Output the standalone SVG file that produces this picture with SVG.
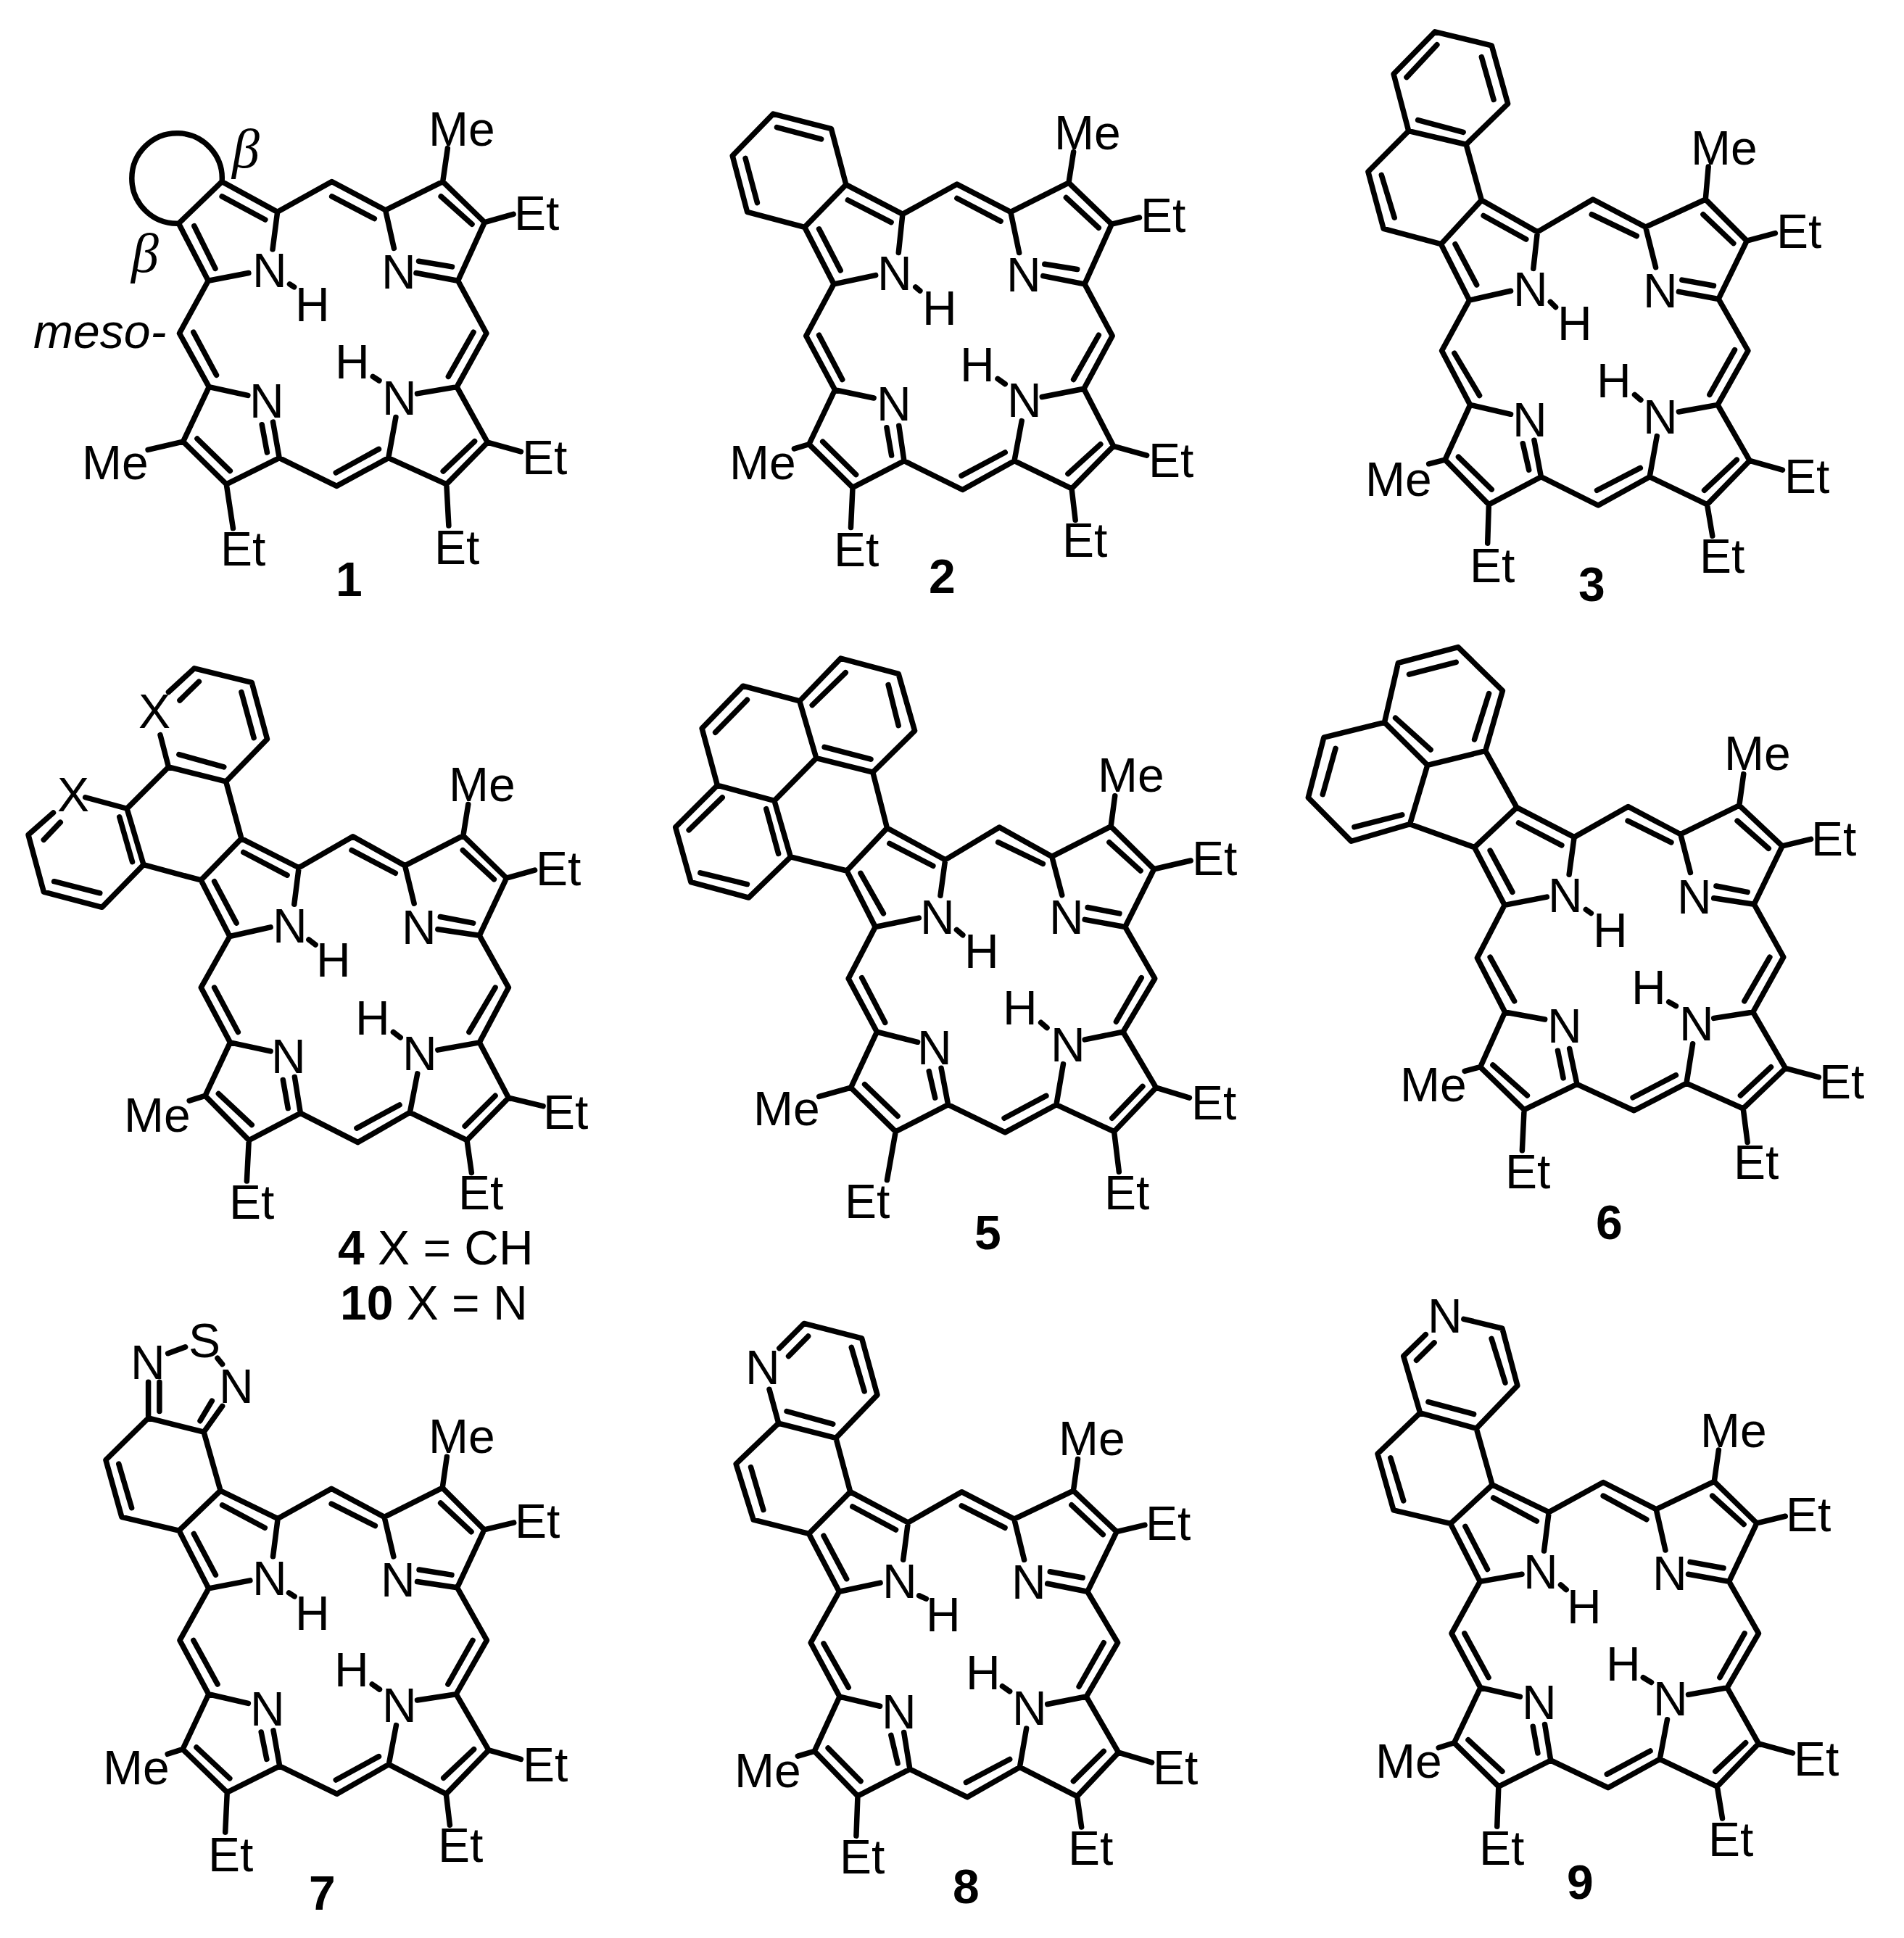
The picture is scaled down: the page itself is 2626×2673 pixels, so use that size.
<svg xmlns="http://www.w3.org/2000/svg" width="2626" height="2673" viewBox="0 0 2626 2673">
<style>
.b{fill:none;stroke:#000;stroke-width:7.5;stroke-linecap:round;stroke-linejoin:round;vector-effect:non-scaling-stroke}
text{font-family:"Liberation Sans",Arial,sans-serif;font-size:66px;fill:#000}
.l{font-weight:bold}
.i{font-style:italic}
.g{font-family:"Liberation Serif","Times New Roman",serif;font-style:italic;font-size:76px}
</style>
<rect width="2626" height="2673" fill="#fff"/>
<g id="compound-1">
<path class="b" transform="matrix(.5102 0 0 .5102 0 100)" d="M600 295L750 377 897 295 1042 372 1197 295 1310 405 1238 563 1315 705 1235 850 1318 1000 1207 1113 1050 1042 910 1118 755 1042 612 1113 495 998 565 850 485 705 563 563 483 408ZM750 377L737 478M563 563L672 542M1042 372L1065 475M1238 563L1125 542M1132 510L1222 525M1235 850L1128 868M1050 1042L1070 932M755 1042L738 945M708 952L722 1027M565 850L670 873M600 335L717 398M897 335L1012 395M1192 335L1276 410M525 415L582 530M1280 702L1212 822M1283 997L1198 1078M1024 1018L908 1082M622 1077L533 990M523 702L585 818M783 572L795 580M1008 822L1025 833M1197 295L1210 205M1310 405L1388 383M1318 1000L1408 1025M1207 1113L1213 1225M612 1113L630 1232M495 998L400 1020M600 295A122 122 0 1 0 483 408"/>
<text x="591" y="201">Me</text><text x="709" y="317">Et</text><text x="348" y="396">N</text><text x="407" y="443">H</text><text x="526" y="398">N</text><text x="462" y="522">H</text><text x="527" y="572">N</text><text x="344" y="576">N</text><text x="720" y="654">Et</text><text x="304" y="780">Et</text><text x="599" y="778">Et</text><text x="113" y="661">Me</text>
<text class="i" x="46" y="480">meso-</text><text class="g" x="320" y="231">β</text><text class="g" x="181" y="375">β</text>
<text class="l" x="463" y="822">1</text>
</g>
<g id="compound-2">
<path class="b" transform="matrix(.5102 0 0 .5102 950 100)" d="M425 303L578 383 725 302 870 377 1027 298 1143 410 1070 572 1145 712 1068 855 1148 1010 1035 1125 880 1050 740 1128 582 1050 443 1122 325 1005 395 858 317 712 392 572 313 418ZM425 303L385 152 228 112 118 225 158 377 313 418M238 148L358 180M153 232L185 352M578 383L567 487M392 572L505 548M870 377L893 487M1070 572L958 550M962 518L1050 532M1068 855L955 877M880 1050L900 942M582 1050L568 955M535 960L548 1035M395 858L500 880M430 345L547 405M725 340L843 402M1020 338L1108 420M352 423L410 535M1108 710L1040 830M1113 1005L1025 1085M855 1027L737 1090M452 1087L362 998M352 710L415 830M613 580L625 590M835 828L855 842M1027 298L1040 215M1143 410L1218 392M1148 1010L1238 1035M1035 1125L1045 1210M443 1122L438 1230M325 1005L285 1017"/>
<text x="1454" y="206">Me</text><text x="1573" y="320">Et</text><text x="1210" y="400">N</text><text x="1272" y="448">H</text><text x="1388" y="402">N</text><text x="1324" y="526">H</text><text x="1389" y="575">N</text><text x="1209" y="580">N</text><text x="1584" y="658">Et</text><text x="1465" y="768">Et</text><text x="1150" y="781">Et</text><text x="1006" y="661">Me</text>
<text class="l" x="1281" y="818">2</text>
</g>
<g id="compound-3">
<path class="b" transform="matrix(.5587 0 0 .5612 1750 0)" d="M525 492L663 570 800 490 930 558 1078 490 1180 592 1110 735 1183 862 1108 995 1187 1132 1082 1240 940 1172 813 1242 672 1172 543 1240 435 1130 497 995 427 862 495 738 425 600ZM525 492L487 355 345 322 245 422 283 562 425 600M487 355L590 255 550 112 410 78 308 182 345 322M368 295L480 325M525 140L555 245M415 110L340 190M278 430L310 535M663 570L653 660M495 738L597 715M930 558L955 657M1110 735L1012 717M1020 688L1098 702M1108 995L1012 1012M940 1172L958 1072M672 1172L655 1082M627 1090L642 1155M497 995L597 1018M530 530L635 588M797 527L908 580M1072 527L1147 598M460 600L513 700M1150 860L1088 970M1155 1130L1075 1205M917 1150L810 1205M550 1203L468 1123M458 868L520 972M695 742L708 755M903 970L918 983M1078 490L1085 410M1180 592L1250 573M1187 1132L1268 1155M1082 1240L1095 1317M543 1240L540 1335M435 1130L395 1140"/>
<text x="2332" y="227">Me</text><text x="2450" y="342">Et</text><text x="2087" y="422">N</text><text x="2148" y="469">H</text><text x="2266" y="424">N</text><text x="2202" y="548">H</text><text x="2266" y="598">N</text><text x="2086" y="602">N</text><text x="2461" y="680">Et</text><text x="2344" y="790">Et</text><text x="2027" y="803">Et</text><text x="1883" y="684">Me</text>
<text class="l" x="2177" y="829">3</text>
</g>
<g id="compound-4">
<path class="b" transform="matrix(.574 0 0 .574 0 900)" d="M580 447L718 517 848 442 973 512 1113 440 1217 542 1152 680 1222 805 1152 937 1222 1070 1122 1172 985 1105 860 1177 722 1107 598 1172 493 1065 553 937 483 805 552 682 483 547ZM580 447L543 310 405 275M543 310L642 208 605 72 467 38 405 95M430 245L538 275M580 95L610 205M478 70L432 115M385 198L405 275 305 375 205 348M305 375L345 510 245 612 105 575 68 438 128 385M287 395L318 503M240 578L130 550M105 450L145 408M345 510L483 547M718 517L707 605M552 682L650 660M973 512L995 603M1152 680L1052 665M1058 635L1137 650M1152 937L1052 955M985 1105L1003 1012M722 1107L708 1020M680 1027L692 1095M553 937L650 958M585 480L690 535M845 475L950 530M1112 475L1187 545M515 550L568 650M1190 805L1127 912M1190 1065L1117 1138M960 1087L857 1143M605 1135L525 1060M515 805L572 912M742 690L758 702M945 912L962 925M1113 440L1125 365M1217 542L1285 523M1222 1070L1305 1090M1122 1172L1133 1250M598 1172L593 1270M493 1065L455 1077"/>
<text x="191" y="1004">X</text><text x="79" y="1119">X</text><text x="619" y="1105">Me</text><text x="739" y="1221">Et</text><text x="376" y="1300">N</text><text x="436" y="1347">H</text><text x="554" y="1302">N</text><text x="490" y="1427">H</text><text x="555" y="1476">N</text><text x="374" y="1480">N</text><text x="749" y="1557">Et</text><text x="632" y="1668">Et</text><text x="316" y="1681">Et</text><text x="171" y="1561">Me</text>
<text class="l" x="466" y="1744">4 <tspan font-weight="normal">X = CH</tspan></text>
<text class="l" x="469" y="1820">10 <tspan font-weight="normal">X = N</tspan></text>
</g>
<g id="compound-5">
<path class="b" transform="matrix(.5612 0 0 .5612 880 880)" d="M612 467L755 545 888 465 1017 537 1162 463 1268 568 1197 710 1270 837 1192 968 1273 1105 1170 1213 1028 1147 902 1215 762 1147 633 1213 523 1105 587 968 517 837 583 710 513 572ZM612 467L577 330 438 295 335 400 195 362 92 465 130 600 272 638 375 538 513 572M577 330L680 228 640 88 498 50 397 155 438 295M397 155L258 118 157 222 195 362M335 400L375 538M458 268L572 298M640 215L615 115M510 85L428 165M268 152L190 232M207 392L125 472M153 577L268 605M315 420L345 530M755 545L743 633M583 710L690 688M1017 537L1042 632M1197 710L1098 692M1105 662L1183 677M1192 968L1098 987M1028 1147L1045 1047M762 1147L745 1057M715 1065L730 1130M587 968L687 993M618 505L725 560M885 502L995 555M1158 502L1235 572M547 578L603 677M1237 835L1175 943M1240 1102L1165 1180M1003 1125L900 1180M638 1175L557 1097M550 835L607 945M783 717L798 730M990 945L1005 958M1162 463L1172 388M1268 568L1358 547M1273 1105L1355 1130M1170 1213L1182 1312M633 1213L612 1332M523 1105L445 1127"/>
<text x="1514" y="1092">Me</text><text x="1644" y="1207">Et</text><text x="1269" y="1288">N</text><text x="1330" y="1335">H</text><text x="1447" y="1288">N</text><text x="1383" y="1413">H</text><text x="1449" y="1464">N</text><text x="1265" y="1468">N</text><text x="1643" y="1544">Et</text><text x="1523" y="1668">Et</text><text x="1165" y="1680">Et</text><text x="1039" y="1552">Me</text>
<text class="l" x="1344" y="1723">5</text>
</g>
<g id="compound-6">
<path class="b" transform="matrix(.5395 0 0 .5612 1780 860)" d="M578 452L725 525 863 450 997 518 1147 447 1257 547 1185 690 1260 820 1182 955 1265 1093 1157 1192 1012 1130 878 1197 732 1132 597 1195 485 1090 548 955 477 822 547 692 470 550ZM578 452L498 313 350 348 240 243 275 97 428 58 542 165 498 313M240 243L85 280 45 428 155 535 305 493 350 348M305 493L470 550M358 310L268 232M303 125L423 95M507 172L470 285M115 307L82 420M163 500L285 470M725 525L712 617M547 692L655 672M997 518L1022 612M1185 690L1082 675M1088 645L1168 660M1182 955L1082 970M1012 1130L1028 1033M732 1132L713 1045M683 1050L697 1117M548 955L650 973M583 490L693 545M862 485L973 538M1142 485L1222 553M510 558L567 660M1225 820L1160 928M1228 1090L1150 1160M985 1110L875 1165M605 1160L517 1085M510 820L572 928M755 703L768 712M967 930L985 940M1147 447L1158 370M1257 547L1330 530M1265 1093L1350 1115M1157 1192L1168 1275M597 1195L592 1295M485 1090L445 1100"/>
<text x="2378" y="1062">Me</text><text x="2498" y="1180">Et</text><text x="2135" y="1258">N</text><text x="2197" y="1306">H</text><text x="2313" y="1260">N</text><text x="2250" y="1385">H</text><text x="2316" y="1435">N</text><text x="2134" y="1438">N</text><text x="2509" y="1515">Et</text><text x="2391" y="1626">Et</text><text x="2076" y="1639">Et</text><text x="1931" y="1519">Me</text>
<text class="l" x="2201" y="1709">6</text>
</g>
<g id="compound-7">
<path class="b" transform="matrix(.5102 0 0 .5504 100 1810)" d="M400 447L555 517 700 442 843 513 1000 440 1113 545 1040 690 1120 822 1037 957 1125 1097 1010 1207 855 1133 715 1207 560 1137 418 1203 298 1095 368 957 290 822 368 692 288 547ZM400 447L355 300 205 265 90 370 133 513 288 547M125 380L160 490M205 265L205 175M235 175L235 248M355 300L405 235M345 272L377 222M258 103L305 87M392 115L405 130M555 517L542 612M368 692L480 672M843 513L868 612M1040 690L932 675M937 645L1025 658M1037 957L932 972M855 1133L875 1035M560 1137L543 1048M510 1052L525 1120M368 957L475 980M405 483L520 540M700 480L818 535M995 478L1078 550M328 555L387 658M1082 822L1015 932M1085 1095L1003 1167M828 1113L712 1172M425 1168L335 1090M327 822L392 932M585 703L600 712M810 932L830 945M1000 440L1012 362M1113 545L1193 527M1125 1097L1212 1120M1010 1207L1020 1285M418 1203L413 1303M298 1095L257 1107"/>
<text x="180" y="1902">N</text><text x="260" y="1872">S</text><text x="302" y="1935">N</text><text x="591" y="2004">Me</text><text x="710" y="2121">Et</text><text x="348" y="2200">N</text><text x="407" y="2248">H</text><text x="525" y="2202">N</text><text x="461" y="2326">H</text><text x="527" y="2375">N</text><text x="345" y="2380">N</text><text x="721" y="2457">Et</text><text x="604" y="2568">Et</text><text x="287" y="2581">Et</text><text x="142" y="2461">Me</text>
<text class="l" x="426" y="2634">7</text>
</g>
<g id="compound-8">
<path class="b" transform="matrix(.5102 0 0 .5504 960 1810)" d="M417 450L573 527 718 450 860 518 1020 447 1137 550 1058 700 1140 828 1055 963 1142 1103 1030 1213 875 1140 733 1215 578 1145 437 1212 320 1100 388 963 310 828 387 700 305 555ZM417 450L378 315 223 278 108 380 155 520 305 555M378 315L490 207 448 65 292 28 225 90M198 193L223 278M245 248L370 280M420 88L455 198M303 60L250 110M148 388L182 495M573 527L560 620M387 700L498 678M860 518L887 620M1058 700L950 680M957 650L1045 665M1055 963L950 982M875 1140L893 1043M578 1145L562 1053M527 1060L545 1130M388 963L497 987M423 487L540 545M718 485L835 540M1015 483L1100 557M345 560L407 668M1102 828L1035 938M1102 1100L1020 1175M848 1120L730 1178M445 1175L357 1092M345 830L412 940M603 710L622 718M828 937L848 950M1020 447L1032 368M1137 550L1213 533M1142 1103L1232 1128M1030 1213L1042 1290M437 1212L433 1312M320 1100L275 1112"/>
<text x="1028" y="1909">N</text><text x="1460" y="2007">Me</text><text x="1580" y="2124">Et</text><text x="1217" y="2204">N</text><text x="1277" y="2250">H</text><text x="1395" y="2205">N</text><text x="1332" y="2330">H</text><text x="1396" y="2379">N</text><text x="1216" y="2384">N</text><text x="1590" y="2461">Et</text><text x="1473" y="2572">Et</text><text x="1158" y="2584">Et</text><text x="1013" y="2465">Me</text>
<text class="l" x="1314" y="2625">8</text>
</g>
<g id="compound-9">
<path class="b" transform="matrix(.5102 0 0 .5631 1826 1790)" d="M455 458L608 525 755 452 898 518 1055 450 1170 552 1095 695 1175 822 1090 955 1175 1092 1063 1197 908 1130 768 1200 613 1133 472 1197 352 1090 423 955 345 822 422 695 342 553ZM455 458L412 320 260 282 145 382 188 520 342 553M412 320L523 215 482 75 378 52M260 282L215 143 275 90M282 255L405 285M453 100L490 208M250 153L298 110M180 392L215 497M608 525L595 620M422 695L535 677M898 518L923 618M1095 695L985 677M990 647L1080 662M1090 955L985 972M908 1130L928 1033M613 1133L597 1045M565 1050L578 1115M423 955L530 977M458 490L575 547M755 485L872 543M1050 485L1135 555M382 560L442 665M1137 822L1070 930M1140 1090L1058 1160M882 1110L765 1167M482 1160L390 1083M380 822L445 930M640 703L655 715M863 930L885 942M1055 450L1067 373M1170 552L1247 535M1175 1092L1267 1115M1063 1197L1077 1275M472 1197L468 1295M352 1090L310 1102"/>
<text x="1969" y="1838">N</text><text x="2345" y="1996">Me</text><text x="2463" y="2112">Et</text><text x="2101" y="2191">N</text><text x="2161" y="2239">H</text><text x="2279" y="2193">N</text><text x="2215" y="2318">H</text><text x="2280" y="2366">N</text><text x="2099" y="2371">N</text><text x="2474" y="2449">Et</text><text x="2356" y="2560">Et</text><text x="2040" y="2572">Et</text><text x="1897" y="2452">Me</text>
<text class="l" x="2161" y="2619">9</text>
</g>
</svg>
